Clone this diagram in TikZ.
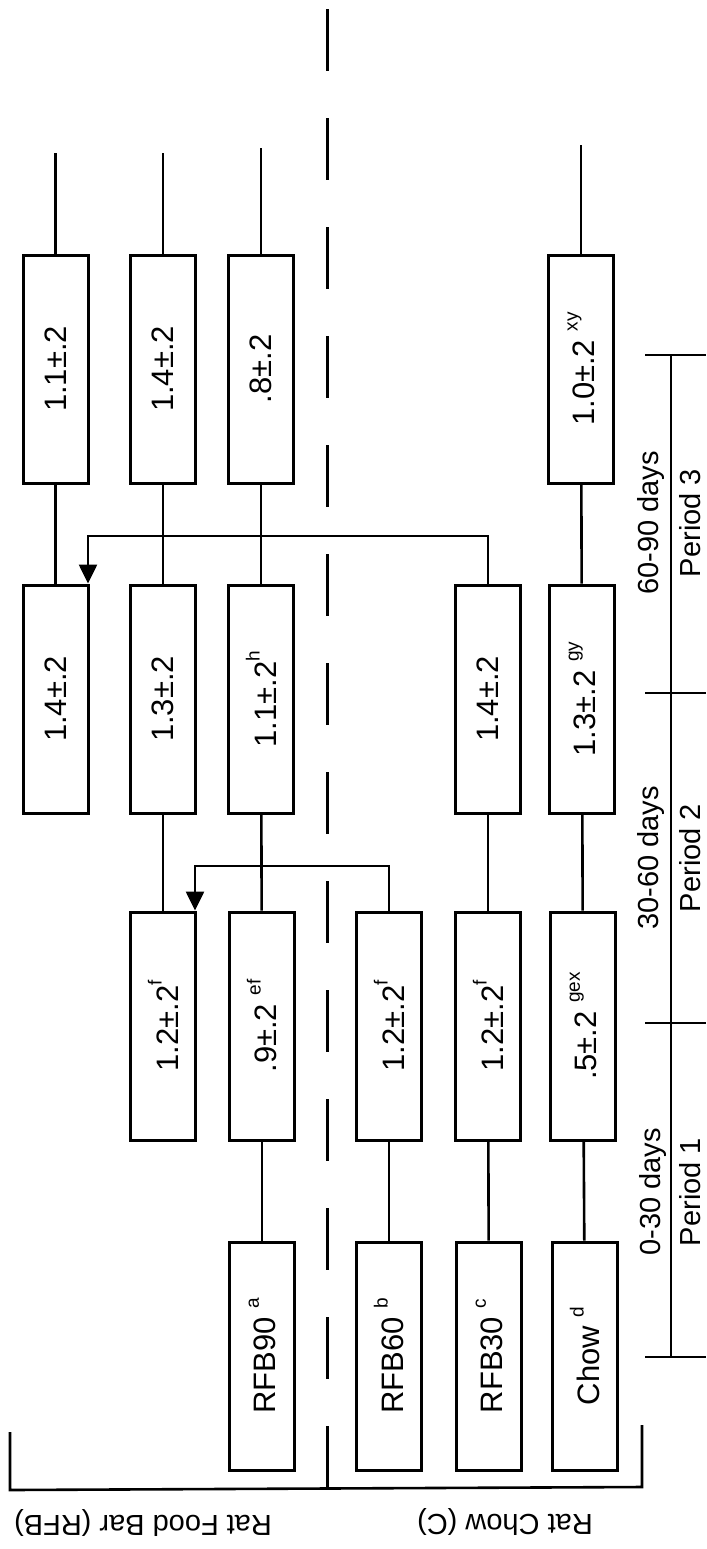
\documentclass[tikz,border=0pt]{standalone}
\usepackage{fontspec}
\setmainfont{Liberation Sans}
\usetikzlibrary{arrows.meta}
\newcommand\mysup[1]{\raisebox{1.0ex}{\fontsize{9.5}{9.5}\selectfont #1}}
\begin{document}
\begin{tikzpicture}[x=0.5pt,y=-0.5pt,
  box/.style={draw, line width=1.5pt, rotate=90, minimum width=114pt, minimum height=32.5pt, inner sep=0pt, font=\fontsize{15.5}{16}\selectfont},
  conn/.style={line width=1.3pt},
  arr/.style={line width=1.3pt, -{Triangle[length=9.5pt,width=9pt]}},
  lab/.style={font=\fontsize{14.5}{15}\selectfont, inner sep=0pt}]
\useasboundingbox (0,0) rectangle (707,1549);
% period 3 row
\node[box] (p3a) at (55.5,369) {1.1±.2};
\node[box] (p3b) at (163,369) {1.4±.2};
\node[box] (p3c) at (261,369) {.8±.2};
\node[box] (p3g) at (581,369) {1.0±.2 \mysup{xy}};
% period 2 row
\node[box] (p2a) at (55.5,699) {1.4±.2};
\node[box] (p2b) at (163,699) {1.3±.2};
\node[box] (p2c) at (261,699) {1.1±.2\mysup{h}};
\node[box] (p2f) at (488,699) {1.4±.2};
\node[box] (p2g) at (582,699) {1.3±.2 \mysup{gy}};
% period 1 row
\node[box] (p1b) at (163,1026) {1.2±.2\mysup{f}};
\node[box] (p1c) at (262,1026) {.9±.2 \mysup{ef}};
\node[box] (p1e) at (389,1026) {1.2±.2\mysup{f}};
\node[box] (p1f) at (488,1026) {1.2±.2\mysup{f}};
\node[box] (p1g) at (583,1026) {.5±.2 \mysup{gex}};
% start row
\node[box] (s0c) at (262,1356) {RFB90 \mysup{a}};
\node[box] (s0e) at (389,1356) {RFB60 \mysup{b}};
\node[box] (s0f) at (489,1356) {RFB30 \mysup{c}};
\node[box] (s0g) at (585,1356) {Chow \mysup{d}};
% free ends at the top
\coordinate (ta) at (55.5,153);
\coordinate (tb) at (163,153);
\coordinate (tc) at (261,148);
\coordinate (tg) at (581,145);
% connectors
\draw[conn] (p3a) -- (ta);
\draw[conn] (p3b) -- (tb);
\draw[conn] (p3c) -- (tc);
\draw[conn] (p3g) -- (tg);
\draw[conn] (p2a) -- (p3a);
\draw[conn] (p2b) -- (p3b);
\draw[conn] (p2c) -- (p3c);
\draw[conn] (p2g) -- (p3g);
\draw[conn] (p1b) -- (p2b);
\draw[conn] (p1c) -- (p2c);
\draw[conn] (p1f) -- (p2f);
\draw[conn] (p1g) -- (p2g);
\draw[conn] (s0c) -- (p1c);
\draw[conn] (s0e) -- (p1e);
\draw[conn] (s0f) -- (p1f);
\draw[conn] (s0g) -- (p1g);
% cross-over arrows
\coordinate (k1) at (195,866);
\draw[arr] (p1e.east) |- (k1) -- (k1 |- p1b.east);
\coordinate (k2) at (88,536);
\draw[arr] (p2f.east) |- (k2) -- (k2 |- p2a.east);
% dashed separator
\draw[line width=1.5pt, dash pattern=on 31pt off 23.5pt] (327,9) -- (327,1490);
% group brackets
\draw[conn] (10,1432) -- (10,1490) -- (642,1487) -- (642,1425);
\node[lab, rotate=180] (lrfb) at (143,1523) {Rat Food Bar (RFB)};
\node[lab, rotate=180] (lrc) at (505,1522) {Rat Chow (C)};
% time axis
\draw[conn] (671,355) -- (671,1357);
\foreach \yy in {355,693,1023,1357} \draw[conn] (645,\yy) -- (706,\yy);
\node[lab, rotate=90] (d3) at (651,523) {60-90 days};
\node[lab, rotate=90] (q3) at (690,523) {Period 3};
\node[lab, rotate=90] (d2) at (651,858) {30-60 days};
\node[lab, rotate=90] (q2) at (690,858) {Period 2};
\node[lab, rotate=90] (d1) at (653,1192) {0-30 days};
\node[lab, rotate=90] (q1) at (690,1192) {Period 1};
\end{tikzpicture}
\end{document}
